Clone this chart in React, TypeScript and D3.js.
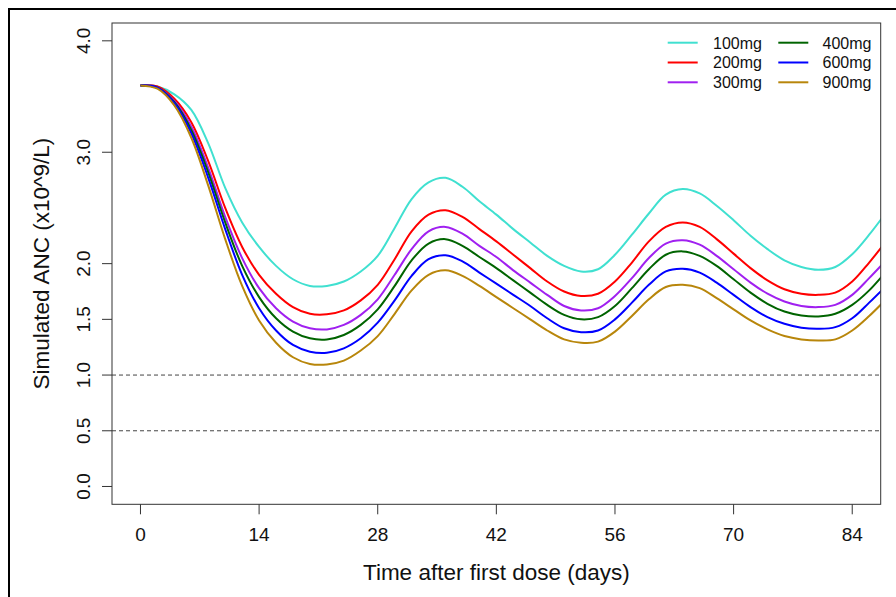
import React from "react";
import * as d3 from "d3";

const days = [0, 2, 4, 6, 8, 10, 12, 14, 16, 18, 20, 22, 24, 26, 28, 30, 32, 34, 36, 38, 40, 42, 44, 46, 48, 50, 52, 54, 56, 58, 60, 62, 64, 66, 68, 70, 72, 74, 76, 78, 80, 82, 84, 86, 88];

const anc100 = [3.60, 3.59, 3.52, 3.38, 3.08, 2.68, 2.37, 2.15, 1.98, 1.86, 1.80, 1.80, 1.84, 1.93, 2.07, 2.32, 2.58, 2.73, 2.77, 2.69, 2.56, 2.44, 2.31, 2.19, 2.07, 1.98, 1.93, 1.95, 2.08, 2.26, 2.45, 2.62, 2.67, 2.63, 2.52, 2.39, 2.25, 2.13, 2.03, 1.97, 1.945, 1.97, 2.085, 2.26, 2.46];
const anc200 = [3.60, 3.59, 3.48, 3.27, 2.92, 2.50, 2.15, 1.90, 1.73, 1.61, 1.55, 1.545, 1.58, 1.67, 1.81, 2.04, 2.29, 2.44, 2.48, 2.42, 2.31, 2.20, 2.08, 1.96, 1.84, 1.75, 1.71, 1.73, 1.84, 2.01, 2.20, 2.33, 2.37, 2.33, 2.22, 2.09, 1.96, 1.85, 1.77, 1.73, 1.72, 1.74, 1.84, 2.01, 2.20];
const anc300 = [3.60, 3.58, 3.46, 3.23, 2.86, 2.42, 2.05, 1.78, 1.60, 1.48, 1.42, 1.41, 1.45, 1.54, 1.68, 1.90, 2.13, 2.29, 2.33, 2.27, 2.16, 2.06, 1.94, 1.83, 1.72, 1.62, 1.58, 1.60, 1.71, 1.87, 2.05, 2.18, 2.21, 2.17, 2.07, 1.95, 1.83, 1.73, 1.66, 1.62, 1.61, 1.63, 1.72, 1.87, 2.03];
const anc400 = [3.60, 3.58, 3.45, 3.20, 2.82, 2.37, 1.98, 1.70, 1.51, 1.39, 1.33, 1.32, 1.36, 1.45, 1.59, 1.80, 2.03, 2.18, 2.22, 2.16, 2.06, 1.96, 1.85, 1.74, 1.63, 1.54, 1.50, 1.52, 1.62, 1.78, 1.95, 2.08, 2.11, 2.07, 1.98, 1.86, 1.74, 1.64, 1.57, 1.535, 1.526, 1.55, 1.63, 1.76, 1.93];
const anc600 = [3.60, 3.58, 3.44, 3.17, 2.77, 2.31, 1.90, 1.60, 1.40, 1.27, 1.21, 1.20, 1.24, 1.33, 1.47, 1.67, 1.89, 2.04, 2.075, 2.02, 1.92, 1.82, 1.72, 1.62, 1.51, 1.42, 1.385, 1.40, 1.50, 1.65, 1.81, 1.93, 1.954, 1.92, 1.83, 1.72, 1.61, 1.52, 1.46, 1.425, 1.415, 1.43, 1.51, 1.65, 1.80];
const anc900 = [3.60, 3.57, 3.42, 3.13, 2.70, 2.22, 1.80, 1.49, 1.29, 1.16, 1.10, 1.095, 1.13, 1.22, 1.35, 1.55, 1.76, 1.90, 1.94, 1.89, 1.80, 1.70, 1.60, 1.50, 1.40, 1.32, 1.29, 1.30, 1.39, 1.53, 1.68, 1.79, 1.81, 1.78, 1.69, 1.59, 1.49, 1.41, 1.35, 1.32, 1.31, 1.32, 1.40, 1.53, 1.68];

const doseLabels = ["100mg", "200mg", "300mg", "400mg", "600mg", "900mg"];
const doseColors = ["#40E0D0", "#FF0000", "#A020F0", "#006400", "#0000FF", "#B8860B"];
const seriesValues = [anc100, anc200, anc300, anc400, anc600, anc900];

const xTicks = [0, 14, 28, 42, 56, 70, 84];
const yTicks = [0, 0.5, 1.0, 1.5, 2.0, 3.0, 4.0];
const yTickLabels = ["0.0", "0.5", "1.0", "1.5", "2.0", "3.0", "4.0"];
const refLines = [1.0, 0.5];

const W = 896;
const H = 597;
const plot = { left: 112, right: 880.7, top: 23, bottom: 504.3 };
const FONT = "'Liberation Sans', Arial, Helvetica, sans-serif";

export default function App() {
  const x = d3.scaleLinear().domain([-3.36, 87.36]).range([plot.left, plot.right]);
  const y = d3.scaleLinear().domain([-0.16, 4.16]).range([plot.bottom, plot.top]);
  const line = d3
    .line<number>()
    .x((_, i) => x(days[i]))
    .y((v) => y(v))
    .curve(d3.curveCatmullRom.alpha(0.5));

  const legendCols = [
    { lineX1: 667.7, lineX2: 697.7, textX: 713 },
    { lineX1: 778.3, lineX2: 808.3, textX: 822.5 },
  ];
  const rowY = [42.7, 62.5, 82.3];

  return (
    <svg
      width={W}
      height={H}
      style={{ position: "absolute", left: 0, top: 0, background: "#fff" }}
      fontFamily={FONT}
    >
      <rect x={0} y={0} width={W} height={H} fill="#fff" />
      <rect x={9} y={9} width={W + 20} height={H + 20} fill="none" stroke="#000" strokeWidth={2} />
      <defs>
        <clipPath id="plotclip">
          <rect x={plot.left} y={plot.top} width={plot.right - plot.left} height={plot.bottom - plot.top} />
        </clipPath>
      </defs>

      {refLines.map((v) => (
        <line
          key={v}
          x1={plot.left}
          x2={plot.right}
          y1={y(v)}
          y2={y(v)}
          stroke="#444"
          strokeWidth={1}
          strokeDasharray="4,3"
        />
      ))}

      <g clipPath="url(#plotclip)">
        {seriesValues.map((vals, k) => (
          <path
            key={doseLabels[k]}
            d={line(vals) || ""}
            fill="none"
            stroke={doseColors[k]}
            strokeWidth={2}
            strokeLinejoin="round"
          />
        ))}
      </g>

      <rect
        x={plot.left}
        y={plot.top}
        width={plot.right - plot.left}
        height={plot.bottom - plot.top}
        fill="none"
        stroke="#333"
        strokeWidth={1}
      />

      {xTicks.map((t) => (
        <g key={t}>
          <line x1={x(t)} x2={x(t)} y1={plot.bottom} y2={plot.bottom + 10} stroke="#333" />
          <text x={x(t)} y={541.3} textAnchor="middle" fontSize={19} fill="#111">
            {t}
          </text>
        </g>
      ))}

      {yTicks.map((t, i) => (
        <g key={t}>
          <line x1={plot.left - 10} x2={plot.left} y1={y(t)} y2={y(t)} stroke="#333" />
          <text
            transform={`translate(90,${y(t)}) rotate(-90)`}
            textAnchor="middle"
            fontSize={19}
            fill="#111"
          >
            {yTickLabels[i]}
          </text>
        </g>
      ))}

      <text x={(plot.left + plot.right) / 2} y={579.5} textAnchor="middle" fontSize={22.5} fill="#111">
        Time after first dose (days)
      </text>
      <text
        transform={`translate(49,${(plot.top + plot.bottom) / 2}) rotate(-90)`}
        textAnchor="middle"
        fontSize={22.5}
        fill="#111"
      >
        Simulated ANC (x10^9/L)
      </text>

      {doseLabels.map((lab, k) => {
        const col = legendCols[Math.floor(k / 3)];
        const ry = rowY[k % 3];
        return (
          <g key={lab}>
            <line x1={col.lineX1} x2={col.lineX2} y1={ry} y2={ry} stroke={doseColors[k]} strokeWidth={2} />
            <text x={col.textX} y={ry + 5.8} fontSize={16} fill="#111">
              {lab}
            </text>
          </g>
        );
      })}
    </svg>
  );
}
